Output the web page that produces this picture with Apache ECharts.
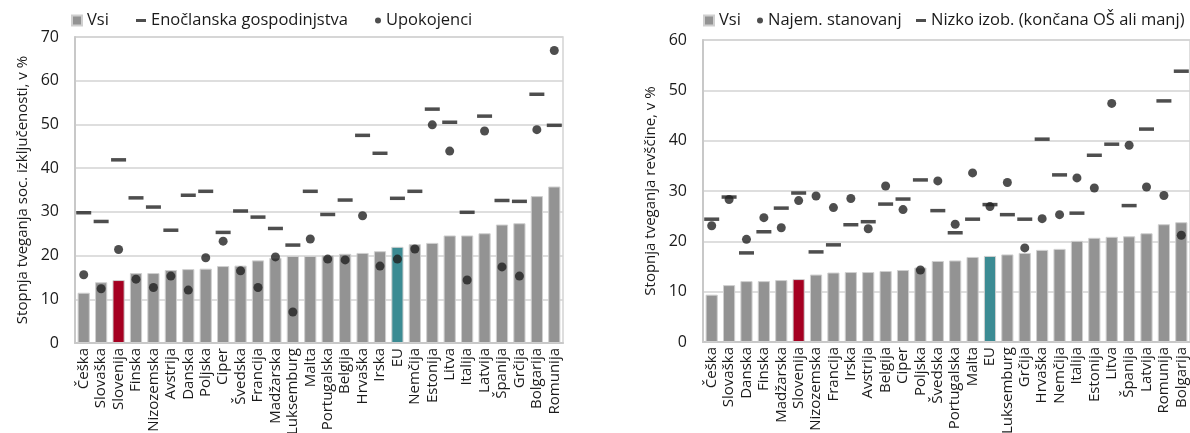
<!DOCTYPE html>
<html>
<head>
<meta charset="utf-8">
<script src="https://cdn.jsdelivr.net/npm/echarts@6/dist/echarts.min.js"></script>
<style>
html,body{margin:0;padding:0;background:#fff;}
#c{width:1190px;height:433px;}
</style>
</head>
<body>
<div id="c"></div>
<script>
// ---- Left chart data (Stopnja tveganja soc. izključenosti) ----
var catsL = ['Češka','Slovaška','Slovenija','Finska','Nizozemska','Avstrija','Danska','Poljska','Ciper','Švedska','Francija','Madžarska','Luksemburg','Malta','Portugalska','Belgija','Hrvaška','Irska','EU','Nemčija','Estonija','Litva','Italija','Latvija','Španija','Grčija','Bolgarija','Romunija'];
var vsiL = [11.5,13.9,14.4,16.0,16.0,16.7,16.9,17.0,17.6,17.7,18.9,19.5,19.9,19.9,20.1,20.4,20.6,21.0,22.0,22.6,22.9,24.6,24.6,25.1,27.1,27.4,33.6,35.8];
var enoL = [29.8,27.8,41.9,33.2,31.1,25.8,33.8,34.7,25.3,30.2,28.8,26.2,22.4,34.7,29.4,32.7,47.5,43.4,33.1,34.7,53.5,50.5,29.9,51.9,32.6,32.4,56.9,49.8];
var upoL = [15.6,12.4,21.4,14.6,12.7,15.3,12.1,19.5,23.3,16.5,12.7,19.7,7.1,23.8,19.2,19.0,29.1,17.6,19.2,21.5,49.9,43.9,14.4,48.5,17.4,15.3,48.8,66.9];
var ticksL = [0,10,20,30,40,50,60,70];

// ---- Right chart data (Stopnja tveganja revščine) ----
var catsR = ['Češka','Slovaška','Danska','Finska','Madžarska','Slovenija','Nizozemska','Francija','Irska','Avstrija','Belgija','Ciper','Poljska','Švedska','Portugalska','Malta','EU','Luksemburg','Grčija','Hrvaška','Nemčija','Italija','Estonija','Litva','Španija','Latvija','Romunija','Bolgarija'];
var vsiR = [9.4,11.3,12.1,12.1,12.3,12.5,13.4,13.8,13.9,13.9,14.1,14.3,14.8,16.1,16.2,16.9,17.1,17.4,17.7,18.3,18.5,20.1,20.7,20.9,21.0,21.6,23.4,23.8];
var najR = [23.1,28.3,20.4,24.7,22.7,28.1,29.0,26.7,28.5,22.5,31.0,26.3,14.3,32.0,23.4,33.6,26.9,31.7,18.7,24.5,25.3,32.6,30.6,47.4,39.1,30.8,29.1,21.2];
var nizR = [24.4,28.8,17.7,21.9,26.6,29.6,17.9,19.3,23.3,23.9,27.4,28.4,32.2,26.1,21.7,24.4,27.3,25.3,24.4,40.3,33.2,25.6,37.1,39.3,27.1,42.3,47.9,53.8];
var ticksR = [0,10,20,30,40,50,60];

var FONT = 'Open Sans';
var TXT = '#1a1a1a';
var GREY = '#939393', RED = '#a50021', TEAL = '#3b8b93', DARK = '#222222', GRID = '#d3d3d3';

function barData(cats, vals){
  return vals.map(function(v,i){
    var c = cats[i]==='Slovenija' ? RED : (cats[i]==='EU' ? TEAL : GREY);
    return {value:v, itemStyle:{color:c}};
  });
}

function xAx(idx, cats){
  return {gridIndex:idx, type:'category', data:cats,
    axisTick:{show:false},
    axisLine:{lineStyle:{color:'#c8c8c8', width:2}},
    axisLabel:{rotate:90, fontFamily:FONT, fontSize:15, color:TXT, margin:5, interval:0}};
}
function yAx(idx, ticks, name, gap){
  return {gridIndex:idx, type:'value', min:ticks[0], max:ticks[ticks.length-1], interval:10,
    name:name, nameLocation:'middle', nameGap:gap, nameRotate:90,
    nameTextStyle:{fontFamily:FONT, fontSize:15, color:TXT},
    axisLine:{show:true, lineStyle:{color:'#c8c8c8', width:2}},
    axisTick:{show:false},
    splitLine:{lineStyle:{color:GRID, width:1.5}},
    axisLabel:{fontFamily:FONT, fontSize:16, color:TXT, margin:16}};
}
function leg(left, name, icon, w, h){
  return {left:left, top:11, data:[{name:name, icon:icon}], itemWidth:w, itemHeight:h,
    selectedMode:false, padding:0,
    textStyle:{fontFamily:FONT, fontSize:16.5, color:TXT, lineHeight:19}};
}

var chart = echarts.init(document.getElementById('c'), null, {renderer:'canvas'});
chart.setOption({
  animation:false,
  backgroundColor:'#fff',
  grid:[
    {left:75, top:37, width:488, height:306, show:true, borderColor:GRID, borderWidth:1.5, containLabel:false, outerBoundsMode:'none'},
    {left:703, top:40, width:487, height:302, show:true, borderColor:GRID, borderWidth:1.5, containLabel:false, outerBoundsMode:'none'}
  ],
  legend:[
    leg(71,'Vsi','rect',10,10),
    leg(136,'Enočlanska gospodinjstva','rect',10,3),
    leg(375,'Upokojenci','circle',6,6),
    leg(703,'Vsi','rect',10,10),
    leg(757,'Najem. stanovanj','circle',6,6),
    leg(916,'Nizko izob. (končana OŠ ali manj)','rect',10,3)
  ],
  xAxis:[xAx(0,catsL), xAx(1,catsR)],
  yAxis:[yAx(0,ticksL,'Stopnja tveganja soc. izključenosti, v %',45), yAx(1,ticksR,'Stopnja tveganja revščine, v %',45)],
  series:[
    {name:'Vsi', type:'bar', xAxisIndex:0, yAxisIndex:0, data:barData(catsL,vsiL), barCategoryGap:'30%',
      itemStyle:{color:GREY, borderColor:'#cfcfcf', borderWidth:1}},
    {name:'Enočlanska gospodinjstva', type:'scatter', xAxisIndex:0, yAxisIndex:0, data:enoL,
      symbol:'rect', symbolSize:[15,3.5], itemStyle:{color:DARK}, z:3},
    {name:'Upokojenci', type:'scatter', xAxisIndex:0, yAxisIndex:0, data:upoL,
      symbol:'circle', symbolSize:9, itemStyle:{color:DARK}, z:4},
    {name:'Vsi', type:'bar', xAxisIndex:1, yAxisIndex:1, data:barData(catsR,vsiR), barCategoryGap:'30%',
      itemStyle:{color:GREY, borderColor:'#cfcfcf', borderWidth:1}},
    {name:'Najem. stanovanj', type:'scatter', xAxisIndex:1, yAxisIndex:1, data:najR,
      symbol:'circle', symbolSize:9, itemStyle:{color:DARK}, z:4},
    {name:'Nizko izob. (končana OŠ ali manj)', type:'scatter', xAxisIndex:1, yAxisIndex:1, data:nizR,
      symbol:'rect', symbolSize:[15,3.5], itemStyle:{color:DARK}, z:3}
  ]
});
</script>
</body>
</html>
